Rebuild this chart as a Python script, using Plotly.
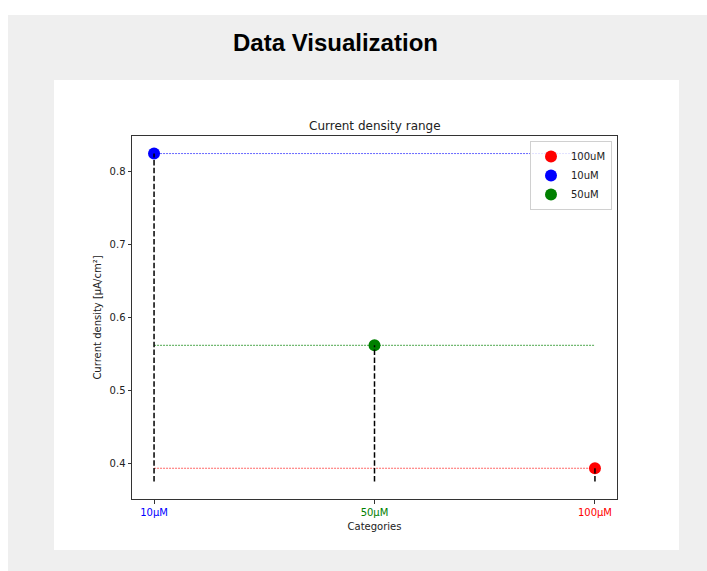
import plotly.graph_objects as go

# ---- data ----
categories = ["10µM", "50µM", "100µM"]
legend_names = ["10uM", "50uM", "100uM"]
values = [0.824, 0.562, 0.394]
colors = ["blue", "green", "red"]
line_colors = ["rgba(0,0,255,0.6)", "rgba(0,128,0,0.7)", "rgba(255,0,0,0.6)"]
legend_order = [2, 0, 1]          # 100uM, 10uM, 50uM
vline_bottom = 0.376
y_ticks = [0.4, 0.5, 0.6, 0.7, 0.8]

W, H = 707, 571
L, R, T, B = 132, 617, 136, 499   # axes box in pixels


def px_x(p):
    return (p - L) / (R - L)


def px_y(p):
    return (B - p) / (B - T)


xpos = list(range(len(categories)))
fig = go.Figure()

# points (legend order)
for i in legend_order:
    fig.add_trace(go.Scatter(
        x=[xpos[i]], y=[values[i]], mode="markers", name=legend_names[i],
        marker=dict(color=colors[i], size=12, line=dict(width=0)),
        showlegend=True))

# horizontal coloured dashed lines
for i in range(len(categories)):
    fig.add_trace(go.Scatter(
        x=[xpos[0], xpos[-1]], y=[values[i], values[i]], mode="lines",
        line=dict(color=line_colors[i], width=1, dash="2px,1px"),
        showlegend=False, hoverinfo="skip"))

# vertical black dashed lines
for i in range(len(categories)):
    fig.add_trace(go.Scatter(
        x=[xpos[i], xpos[i]], y=[vline_bottom, values[i]], mode="lines",
        line=dict(color="black", width=1.5, dash="5.5px,2.4px"),
        showlegend=False, hoverinfo="skip"))

ticktext = [f'<span style="color:{c}">{t}</span>' for t, c in zip(categories, colors)]

axis_common = dict(showline=True, linecolor="#333333", linewidth=1, mirror=True,
                   showgrid=False, zeroline=False, ticks="outside", ticklen=3.5,
                   tickcolor="#333333", tickwidth=0.8,
                   tickfont=dict(family="DejaVu Sans", size=10, color="#222222"))

fig.update_layout(
    width=W, height=H,
    margin=dict(l=L, r=W - R, t=T, b=H - B, pad=0),
    paper_bgcolor="white", plot_bgcolor="white",
    xaxis=dict(range=[-0.1, 2.1], tickvals=xpos, ticktext=ticktext,
               title=dict(text="Categories", standoff=6,
                          font=dict(family="DejaVu Sans", size=10, color="#222222")),
               **axis_common),
    yaxis=dict(range=[0.352, 0.848], tickvals=y_ticks,
               ticktext=[f"{v:.1f}" for v in y_ticks],
               title=dict(text="Current density [µA/cm²]", standoff=6,
                          font=dict(family="DejaVu Sans", size=10, color="#222222")),
               **axis_common),
    legend=dict(x=px_x(612), y=px_y(141), xanchor="right", yanchor="top",
                bgcolor="rgba(255,255,255,0.8)", bordercolor="#d0d0d0", borderwidth=1,
                font=dict(family="DejaVu Sans", size=10, color="#222222"),
                itemwidth=30, tracegroupgap=0),
    showlegend=True,
    shapes=[
        dict(type="rect", xref="paper", yref="paper", layer="below",
             x0=px_x(8), x1=px_x(707), y0=px_y(15), y1=px_y(571),
             fillcolor="#efefef", line=dict(width=0)),
        dict(type="rect", xref="paper", yref="paper", layer="below",
             x0=px_x(54), x1=px_x(679), y0=px_y(80), y1=px_y(550),
             fillcolor="white", line=dict(width=0)),
    ],
    annotations=[
        dict(text="<b>Data Visualization</b>", xref="paper", yref="paper",
             x=px_x(335), y=px_y(42), xanchor="center", yanchor="middle",
             showarrow=False,
             font=dict(family="Liberation Sans", size=24, color="black")),
        dict(text="Current density range", xref="paper", yref="paper",
             x=px_x(375), y=px_y(126), xanchor="center", yanchor="middle",
             showarrow=False,
             font=dict(family="DejaVu Sans", size=12, color="#222222")),
    ],
)

fig.write_html(
    "out.html",
    config={"displayModeBar": False},
    post_script="document.body.style.margin='0';document.body.style.overflow='hidden';",
)
